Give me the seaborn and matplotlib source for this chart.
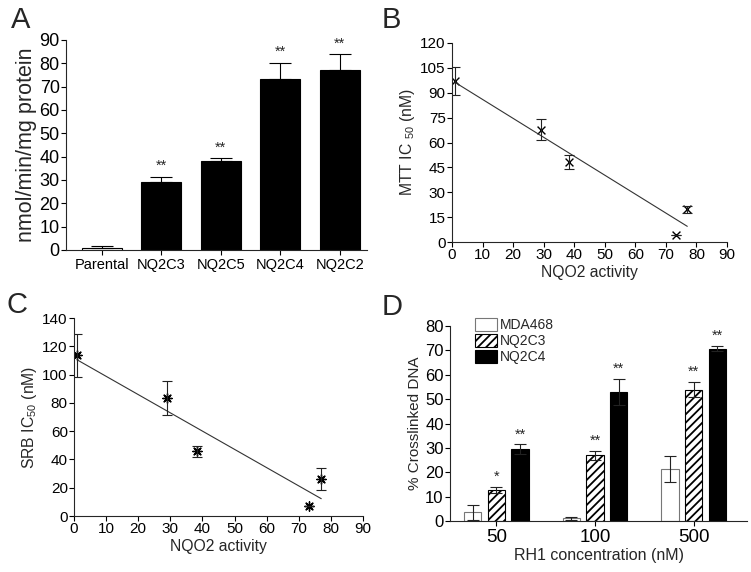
import numpy as np
import pandas as pd
import seaborn as sns
import matplotlib.pyplot as plt
from matplotlib.patches import Patch

# panel A: NQO2 activity per cell line
cell_lines = ['Parental', 'NQ2C3', 'NQ2C5', 'NQ2C4', 'NQ2C2']
nqo2_activity = [1.0, 29.0, 38.3, 73.3, 77.0]
nqo2_err = [0.8, 2.5, 1.0, 7.0, 7.0]
nqo2_sig = ['', '**', '**', '**', '**']

# panels B, C: IC50 vs NQO2 activity
mtt_ic50 = [97.2, 67.8, 48.3, 4.4, 19.6]
mtt_err = [8.5, 6.3, 4.0, 0.0, 2.0]
srb_ic50 = [113.5, 83.3, 45.8, 7.3, 26.2]
srb_err = [15.0, 12.0, 4.0, 0.0, 8.0]

# panel D: crosslinked DNA
rh1_conc = ['50', '100', '500']
xl_lines = ['MDA468', 'NQ2C3', 'NQ2C4']
xl_mda468 = [3.5, 1.1, 21.3]
xl_mda468_err = [3.0, 0.6, 5.4]
xl_nq2c3 = [12.6, 26.9, 53.9]
xl_nq2c3_err = [1.3, 2.0, 3.2]
xl_nq2c4 = [29.5, 53.0, 70.7]
xl_nq2c4_err = [1.9, 5.4, 1.1]
xl_sig = [['', '', ''], ['*', '**', '**'], ['**', '**', '**']]

sns.set_theme(style='ticks')
plt.rcParams['font.family'] = ['Liberation Sans', 'DejaVu Sans']
plt.rcParams['hatch.linewidth'] = 1.3
plt.rcParams['axes.linewidth'] = 0.8
plt.rcParams['xtick.major.width'] = 0.8
plt.rcParams['ytick.major.width'] = 0.8
plt.rcParams['xtick.major.size'] = 3.5
plt.rcParams['ytick.major.size'] = 3.5

fig = plt.figure(figsize=(7.51, 5.72), dpi=100)
W, H = 751, 572


def place(l, r, t, b):
    return fig.add_axes([l / W, (H - b) / H, (r - l) / W, (b - t) / H])


axA = place(66, 367, 40, 250)
axB = place(452, 727, 43, 242)
axC = place(74, 363, 318, 516)
axD = place(450, 747, 326, 521)

# ---- A
sns.barplot(x=cell_lines, y=nqo2_activity, ax=axA, color='black',
            width=0.67, edgecolor='black', linewidth=0.8, errorbar=None)
axA.patches[0].set_facecolor('white')
axA.errorbar(range(len(cell_lines)), nqo2_activity,
             yerr=[np.zeros(len(nqo2_err)), nqo2_err], fmt='none',
             ecolor='black', elinewidth=0.8, capsize=8, capthick=0.8)
for i, s in enumerate(nqo2_sig):
    axA.text(i, nqo2_activity[i] + nqo2_err[i] + 1.5, s, ha='center',
             va='bottom', fontsize=10.5)
axA.set_xlim(-0.6, 4.46)
axA.set_ylim(0, 90)
axA.set_yticks(range(0, 91, 10))
axA.set_ylabel('nmol/min/mg protein', fontsize=15.5, labelpad=2)
axA.tick_params(axis='y', labelsize=13, pad=1)
axA.tick_params(axis='x', labelsize=10.5, pad=2)

# ---- B and C
for ax, vals, errs, mk, lab, yl, ystep, msize, mlw in [
        (axB, mtt_ic50, mtt_err, 'x', 'MTT IC $_\\mathregular{50}$ (nM)', 120, 15, 32, 1.0),
        (axC, srb_ic50, srb_err, (8, 2, 0), 'SRB IC$_\\mathregular{50}$ (nM)', 140, 20, 45, 1.0)]:
    sns.regplot(x=np.array(nqo2_activity), y=np.array(vals), ax=ax, ci=None,
                marker=mk, color='black',
                scatter_kws=dict(s=msize, linewidths=mlw, alpha=1),
                line_kws=dict(color='#333333', lw=0.8))
    ax.errorbar(nqo2_activity, vals, yerr=errs, fmt='none', ecolor='#222222',
                elinewidth=0.8, capsize=3.5, capthick=0.8)
    ax.set_xlim(0, 90)
    ax.set_ylim(0, yl)
    ax.set_xticks(range(0, 91, 10))
    ax.set_yticks(range(0, yl + 1, ystep))
    ax.set_xlabel('NQO2 activity', fontsize=11.3, labelpad=2)
    ax.set_ylabel(lab, fontsize=11.3, labelpad=2)
    ax.tick_params(labelsize=11, pad=1)

# ---- D
df = pd.DataFrame({
    'conc': rh1_conc * 3,
    'line': np.repeat(xl_lines, len(rh1_conc)),
    'pct': xl_mda468 + xl_nq2c3 + xl_nq2c4,
})
sns.barplot(data=df, x='conc', y='pct', hue='line', order=rh1_conc,
            hue_order=xl_lines, palette=['white', 'white', 'black'],
            width=0.72, gap=0.27, errorbar=None, legend=False, ax=axD)
edge_cols = ['#777777', 'black', 'black']
hatches = [None, '////', None]
all_vals = [xl_mda468, xl_nq2c3, xl_nq2c4]
all_errs = [xl_mda468_err, xl_nq2c3_err, xl_nq2c4_err]
bar_conts = list(axD.containers)
for i, cont in enumerate(bar_conts):
    xs = []
    for bar in cont.patches:
        bar.set_edgecolor(edge_cols[i])
        bar.set_linewidth(0.8)
        if hatches[i]:
            bar.set_hatch(hatches[i])
        xs.append(bar.get_x() + bar.get_width() / 2)
    axD.errorbar(xs, all_vals[i], yerr=all_errs[i], fmt='none',
                 ecolor='#222222', elinewidth=0.8, capsize=4.5, capthick=0.8)
    for x, v, e, s in zip(xs, all_vals[i], all_errs[i], xl_sig[i]):
        axD.text(x, v + e + 1.2, s, ha='center', va='bottom', fontsize=10.5)
axD.set_xlim(-0.47, 2.54)
axD.set_ylim(0, 80)
axD.set_yticks(range(0, 81, 10))
axD.set_xlabel('RH1 concentration (nM)', fontsize=11.5, labelpad=2)
axD.set_ylabel('% Crosslinked DNA', fontsize=11, labelpad=2)
axD.tick_params(axis='y', labelsize=12, pad=1)
axD.tick_params(axis='x', labelsize=13.5, pad=2)
handles = [Patch(facecolor='white', edgecolor='#777777', lw=0.8),
           Patch(facecolor='white', edgecolor='black', hatch='////', lw=0.8),
           Patch(facecolor='black', edgecolor='black', lw=0.8)]
axD.legend(handles, xl_lines, loc='upper left', bbox_to_anchor=(0.085, 1.04),
           frameon=False, fontsize=10, handlelength=1.6, handleheight=1.0,
           labelspacing=0.15, handletextpad=0.15, borderpad=0, borderaxespad=0)

for ax in (axA, axB, axC, axD):
    sns.despine(ax=ax)
    ax.tick_params(colors='black')

for x, y, t in [(11, 6, 'A'), (382, 6, 'B'), (7, 291, 'C'), (382, 293, 'D')]:
    fig.text(x / W, 1 - y / H, t, fontsize=21, va='top', ha='left')

fig.savefig('out.png', dpi=100)
